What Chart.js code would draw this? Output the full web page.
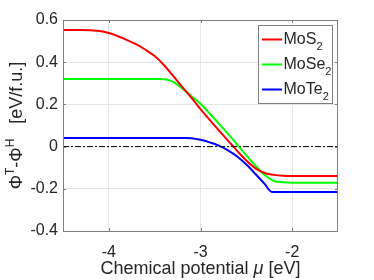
<!DOCTYPE html>
<html>
<head>
<meta charset="utf-8">
<script src="https://cdn.jsdelivr.net/npm/chart.js@4.4.1/dist/chart.umd.min.js"></script>
<style>
  html, body { margin: 0; padding: 0; background: #fff; }
  canvas { display: block; }
</style>
</head>
<body>
<canvas id="grafico" width="374" height="280"></canvas>
<script>
// valores
const seriesNames = ['MoS', 'MoSe', 'MoTe'];
const seriesSub = ['2', '2', '2'];
const seriesColors = ['#ff0000', '#00ff00', '#0000ff'];

const muMoS2 = [-4.5, -4.3, -4.2, -4.1, -4.0, -3.9, -3.8, -3.7, -3.6, -3.5, -3.4, -3.3, -3.2, -3.1, -3.0, -2.9, -2.8, -2.7, -2.6, -2.5, -2.4, -2.3, -2.2, -2.1, -2.0, -1.5];
const phiMoS2 = [0.553, 0.553, 0.552, 0.548, 0.538, 0.523, 0.505, 0.484, 0.459, 0.429, 0.387, 0.336, 0.283, 0.232, 0.178, 0.127, 0.077, 0.028, -0.020, -0.066, -0.103, -0.125, -0.134, -0.138, -0.139, -0.139];

const muMoSe2 = [-4.5, -3.45, -3.4, -3.35, -3.3, -3.2, -3.1, -3.0, -2.9, -2.8, -2.7, -2.6, -2.5, -2.4, -2.3, -2.2, -2.1, -2.0, -1.5];
const phiMoSe2 = [0.32, 0.32, 0.319, 0.315, 0.307, 0.276, 0.24, 0.203, 0.157, 0.109, 0.06, 0.01, -0.042, -0.09, -0.135, -0.163, -0.169, -0.171, -0.171];

const muMoTe2 = [-4.5, -3.15, -3.1, -3.0, -2.9, -2.8, -2.7, -2.6, -2.5, -2.4, -2.3, -2.22, -1.5];
const phiMoTe2 = [0.041, 0.041, 0.04, 0.032, 0.02, 0.005, -0.018, -0.047, -0.085, -0.13, -0.177, -0.215, -0.215];

const zeroMu = [-4.5, -1.5];
const zeroPhi = [0, 0];

const xTicks = [-4, -3, -2];
const xTickLabels = ['-4', '-3', '-2'];
const yTicks = [-0.4, -0.2, 0, 0.2, 0.4, 0.6];
const yTickLabels = ['-0.4', '-0.2', '0', '0.2', '0.4', '0.6'];

const FONTE = '"Liberation Sans", Arial, sans-serif';
const COR_TEXTO = '#262626';
const COR_EIXO = '#808080';

function pontos(xs, ys) {
    return xs.map((x, i) => ({ x: x, y: ys[i] }));
}

// texto com sobrescrito/subscrito desenhado em partes
function larguraPartes(ctx, partes) {
    let w = 0;
    partes.forEach(p => {
        ctx.font = p.font;
        w += ctx.measureText(p.t).width;
    });
    return w;
}

function desenhaPartes(ctx, partes, x, y) {
    partes.forEach(p => {
        ctx.font = p.font;
        ctx.fillText(p.t, x, y + (p.dy || 0));
        x += ctx.measureText(p.t).width;
    });
}

const moldura = {
    id: 'moldura',
    afterDatasetsDraw(chart) {
        const { ctx, chartArea: a, scales } = chart;
        ctx.save();
        ctx.strokeStyle = COR_EIXO;
        ctx.lineWidth = 1;
        ctx.strokeRect(a.left + 0.5, a.top + 0.5, a.right - a.left - 1, a.bottom - a.top);
        ctx.beginPath();
        xTicks.forEach(v => {
            const px = Math.round(scales.x.getPixelForValue(v)) + 0.5;
            ctx.moveTo(px, a.bottom); ctx.lineTo(px, a.bottom - 3);
            ctx.moveTo(px, a.top); ctx.lineTo(px, a.top + 3);
        });
        yTicks.forEach(v => {
            const py = Math.round(scales.y.getPixelForValue(v)) + 0.5;
            ctx.moveTo(a.left, py); ctx.lineTo(a.left + 3, py);
            ctx.moveTo(a.right, py); ctx.lineTo(a.right - 3, py);
        });
        ctx.stroke();
        ctx.restore();
    },
    afterDraw(chart) {
        const { ctx, chartArea: a } = chart;
        ctx.save();
        ctx.fillStyle = COR_TEXTO;
        ctx.textBaseline = 'alphabetic';

        // titulo eixo x
        const f = '18px ' + FONTE;
        const tx = [
            { t: 'Chemical potential ', font: f },
            { t: 'μ', font: 'italic 18px ' + FONTE },
            { t: ' [eV]', font: f }
        ];
        const wx = larguraPartes(ctx, tx);
        desenhaPartes(ctx, tx, (a.left + a.right) / 2 - wx / 2, 274);

        // titulo eixo y
        const ty = [
            { t: 'Φ', font: f },
            { t: 'T', font: '12px ' + FONTE, dy: -8 },
            { t: '-Φ', font: f },
            { t: 'H', font: '12px ' + FONTE, dy: -8 },
            { t: '   [eV/f.u.]', font: f }
        ];
        const wy = larguraPartes(ctx, ty);
        ctx.translate(22, (a.top + a.bottom) / 2);
        ctx.rotate(-Math.PI / 2);
        desenhaPartes(ctx, ty, -wy / 2, 0);
        ctx.restore();

        // legenda
        ctx.save();
        ctx.fillStyle = '#fff';
        ctx.fillRect(258.5, 25.5, 74, 78);
        ctx.strokeStyle = COR_EIXO;
        ctx.lineWidth = 1;
        ctx.strokeRect(258.5, 25.5, 74, 78);
        const linhas = [39.5, 64.5, 89.5];
        seriesNames.forEach((nome, i) => {
            const y = linhas[i];
            ctx.strokeStyle = seriesColors[i];
            ctx.lineWidth = 2;
            ctx.beginPath();
            ctx.moveTo(262, y); ctx.lineTo(282, y);
            ctx.stroke();
            ctx.fillStyle = COR_TEXTO;
            desenhaPartes(ctx, [
                { t: nome, font: '16px ' + FONTE },
                { t: seriesSub[i], font: '11px ' + FONTE, dy: 6 }
            ], 283.5, y + 4);
        });
        ctx.restore();
    }
};

const dadosSeries = [
    pontos(muMoS2, phiMoS2),
    pontos(muMoSe2, phiMoSe2),
    pontos(muMoTe2, phiMoTe2)
];

const datasets = [{
    label: 'zero',
    data: pontos(zeroMu, zeroPhi),
    borderColor: '#000',
    borderWidth: 1,
    borderDash: [6, 2, 2, 2],
    pointRadius: 0,
    tension: 0
}];
dadosSeries.forEach((d, i) => {
    datasets.push({
        label: seriesNames[i] + seriesSub[i],
        data: d,
        borderColor: seriesColors[i],
        borderWidth: 2,
        pointRadius: 0,
        cubicInterpolationMode: 'monotone'
    });
});

const ctx = document.getElementById('grafico').getContext('2d');
const grafico = new Chart(ctx, {
    type: 'line',
    data: { datasets: datasets },
    options: {
        responsive: false,
        animation: false,
        layout: { padding: { top: 20, right: 36, left: 0, bottom: 0 } },
        plugins: { legend: { display: false }, tooltip: { enabled: false } },
        scales: {
            x: {
                type: 'linear',
                min: -4.5,
                max: -1.5,
                afterBuildTicks: s => { s.ticks = xTicks.map(v => ({ value: v })); },
                afterFit: s => { s.height = 49; },
                ticks: {
                    padding: 12,
                    color: COR_TEXTO,
                    font: { family: FONTE, size: 16 },
                    maxRotation: 0,
                    callback: v => xTickLabels[xTicks.indexOf(v)]
                },
                grid: { color: '#e6e6e6', drawTicks: false },
                border: { display: false }
            },
            y: {
                type: 'linear',
                min: -0.4,
                max: 0.6,
                afterBuildTicks: s => { s.ticks = yTicks.map(v => ({ value: v })); },
                afterFit: s => { s.width = 63; },
                ticks: {
                    padding: 5,
                    color: COR_TEXTO,
                    font: { family: FONTE, size: 16 },
                    callback: v => yTickLabels[yTicks.indexOf(v)]
                },
                grid: { color: '#e6e6e6', drawTicks: false },
                border: { display: false }
            }
        }
    },
    plugins: [moldura]
});
</script>
</body>
</html>
